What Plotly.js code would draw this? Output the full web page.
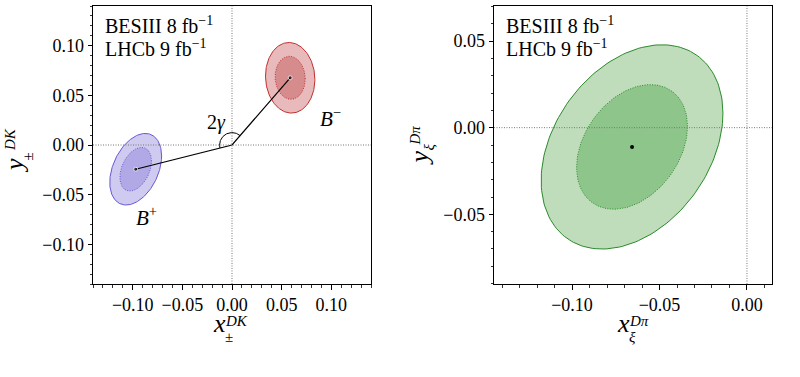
<!DOCTYPE html>
<html>
<head>
<meta charset="utf-8">
<script src="https://cdn.plot.ly/plotly-3.0.1.min.js"></script>
<style>
  html, body { margin: 0; padding: 0; background: #fff; }
  #chart { width: 800px; height: 377px; }
</style>
</head>
<body>
<div id="chart"></div>
<script>
// B -> DK: central values, uncertainties and correlations of (x±, y±)
const dkLabels = ['B+', 'B-'];
const dkX = [-0.0970, 0.0586];
const dkY = [-0.0244, 0.0677];
const dkSigX = [0.0105, 0.0100];
const dkSigY = [0.0145, 0.0143];
const dkRho = [0.37, -0.05];

// B -> Dπ: central value, uncertainties and correlation of (xξ, yξ)
const dpiX = [-0.0657];
const dpiY = [-0.0111];
const dpiSigX = [0.0209];
const dpiSigY = [0.0237];
const dpiRho = [0.33];

// 2D contour levels: 68.3% and 95.4% CL (sqrt of Δχ² = 2.30, 6.18)
const clScale = [Math.sqrt(2.30), Math.sqrt(6.18)];

// Axis ticks
const dkTicks = [-0.10, -0.05, 0.00, 0.05, 0.10];
const dpiXTicks = [-0.10, -0.05, 0.00];
const dpiYTicks = [-0.05, 0.00, 0.05];

const FONT = 'Liberation Serif';
const W = 800, H = 377;
const px = v => v / W;
const py = v => 1 - v / H;

// Contour of a correlated 2D Gaussian at a given scale
function contour(cx, cy, sx, sy, rho, k) {
  const xs = [], ys = [];
  const n = 181;
  const c = Math.sqrt(1 - rho * rho);
  for (let i = 0; i < n; i++) {
    const t = 2 * Math.PI * i / (n - 1);
    xs.push(cx + k * sx * Math.cos(t));
    ys.push(cy + k * sy * (rho * Math.cos(t) + c * Math.sin(t)));
  }
  return { xs, ys };
}

const styles = {
  'B+': { outerFill: '#cfcbf0', innerFill: '#b1a8e6', edge: '#6656d6' },
  'B-': { outerFill: '#e8babb', innerFill: '#d68b8d', edge: '#c0302e' },
  'Dpi': { outerFill: '#bfdcbb', innerFill: '#8ec58a', edge: '#2b8a2b' }
};

const traces = [];
function addEllipses(cx, cy, sx, sy, rho, st, xa, ya) {
  const outer = contour(cx, cy, sx, sy, rho, clScale[1]);
  const inner = contour(cx, cy, sx, sy, rho, clScale[0]);
  traces.push({
    type: 'scatter', mode: 'lines', x: outer.xs, y: outer.ys,
    xaxis: xa, yaxis: ya, fill: 'toself', fillcolor: st.outerFill,
    line: { color: st.edge, width: 1 }, hoverinfo: 'skip', showlegend: false
  });
  traces.push({
    type: 'scatter', mode: 'lines', x: inner.xs, y: inner.ys,
    xaxis: xa, yaxis: ya, fill: 'toself', fillcolor: st.innerFill,
    line: { color: st.edge, width: 1, dash: '1px,1.5px' }, hoverinfo: 'skip', showlegend: false
  });
}

for (let i = 0; i < dkLabels.length; i++) {
  addEllipses(dkX[i], dkY[i], dkSigX[i], dkSigY[i], dkRho[i], styles[dkLabels[i]], 'x', 'y');
}
addEllipses(dpiX[0], dpiY[0], dpiSigX[0], dpiSigY[0], dpiRho[0], styles['Dpi'], 'x2', 'y2');

// Lines from the origin to the two central values
traces.push({
  type: 'scatter', mode: 'lines+markers',
  x: [dkX[0], 0, dkX[1]], y: [dkY[0], 0, dkY[1]],
  xaxis: 'x', yaxis: 'y',
  line: { color: '#000', width: 1.2 },
  marker: { color: '#000', size: [4, 0, 4] },
  hoverinfo: 'skip', showlegend: false
});

// Angle arc between the two vectors (2γ)
(function () {
  const r = 0.0125;
  const a0 = Math.atan2(dkY[1], dkX[1]);
  let a1 = Math.atan2(dkY[0], dkX[0]);
  if (a1 < a0) a1 += 2 * Math.PI;
  const xs = [], ys = [];
  for (let i = 0; i <= 60; i++) {
    const a = a0 + (a1 - a0) * i / 60;
    xs.push(r * Math.cos(a));
    ys.push(r * Math.sin(a));
  }
  traces.push({
    type: 'scatter', mode: 'lines', x: xs, y: ys, xaxis: 'x', yaxis: 'y',
    line: { color: '#000', width: 1 }, hoverinfo: 'skip', showlegend: false
  });
})();

// Central value of the Dπ measurement
traces.push({
  type: 'scatter', mode: 'markers', x: dpiX, y: dpiY, xaxis: 'x2', yaxis: 'y2',
  marker: { color: '#000', size: 4 }, hoverinfo: 'skip', showlegend: false
});

const tickFont = { family: FONT, size: 18, color: '#000' };
function axis(domain, range, tickvals, extra) {
  return Object.assign({
    domain: domain, range: range, tickvals: tickvals,
    ticktext: tickvals.map(v => (v < 0 ? '\u2212' : '') + Math.abs(v).toFixed(2)),
    ticks: 'outside', ticklen: 4.5, tickwidth: 1, tickcolor: '#000',
    showline: true, mirror: true, linecolor: '#000', linewidth: 1,
    showgrid: false, zeroline: false, tickfont: tickFont,
    minor: { dtick: 0.01, tick0: 0, ticks: 'outside', ticklen: 2.5, tickwidth: 0.8, tickcolor: '#000', showgrid: false },
    fixedrange: true
  }, extra || {});
}

const shapes = [];
function zeroLines(xr, yr) {
  const ln = { color: '#777', width: 1, dash: '1px,1.5px' };
  shapes.push({ type: 'line', xref: xr, yref: yr + ' domain', x0: 0, x1: 0, y0: 0, y1: 1, line: ln, layer: 'above' });
  shapes.push({ type: 'line', xref: xr + ' domain', yref: yr, x0: 0, x1: 1, y0: 0, y1: 0, line: ln, layer: 'above' });
}
zeroLines('x', 'y');
zeroLines('x2', 'y2');

const f = size => ({ family: FONT, size: size, color: '#000' });
const txt = (text, x, y, extra) => Object.assign({
  text: text, x: x, y: y, xref: 'paper', yref: 'paper', showarrow: false,
  font: f(20), xanchor: 'left', yanchor: 'middle'
}, extra || {});
const dtxt = (text, x, y, size) => ({
  text: text, x: x, y: y, xref: 'x', yref: 'y', showarrow: false,
  font: f(size), xanchor: 'center', yanchor: 'middle'
});

const annotations = [
  // Dataset labels
  txt('BESIII 8 fb<sup>\u22121</sup>', px(103), py(25)),
  txt('LHCb 9 fb<sup>\u22121</sup>', px(103), py(48)),
  txt('BESIII 8 fb<sup>\u22121</sup>', px(504), py(25)),
  txt('LHCb 9 fb<sup>\u22121</sup>', px(504), py(48)),
  // Labels inside the DK panel
  dtxt('2<i>\u03b3</i>', -0.0160, 0.023, 20),
  dtxt('<i>B</i><sup>\u2212</sup>', 0.0990, 0.028, 21),
  dtxt('<i>B</i><sup>+</sup>', -0.0860, -0.072, 21),
  // x-axis titles
  txt('<i>x</i>', px(219), py(323.5), { xanchor: 'center', font: f(26) }),
  txt('<i>DK</i>', px(223), py(321), { font: f(15) }),
  txt('\u00b1', px(228.5), py(337), { xanchor: 'center', font: f(15) }),
  txt('<i>x</i>', px(623.5), py(323.5), { xanchor: 'center', font: f(26) }),
  txt('<i>D\u03c0</i>', px(627), py(321), { font: f(15) }),
  txt('<i>\u03be</i>', px(632), py(337), { xanchor: 'center', font: f(15) }),
  // y-axis titles (rotated)
  txt('<i>y</i>', px(14), py(166), { xanchor: 'center', textangle: -90, font: f(26) }),
  txt('<i>DK</i>', px(10), py(140), { xanchor: 'center', textangle: -90, font: f(15) }),
  txt('\u00b1', px(27), py(156.5), { xanchor: 'center', textangle: -90, font: f(15) }),
  txt('<i>y</i>', px(419), py(158.5), { xanchor: 'center', textangle: -90, font: f(26) }),
  txt('<i>D\u03c0</i>', px(414), py(135.5), { xanchor: 'center', textangle: -90, font: f(15) }),
  txt('<i>\u03be</i>', px(429), py(147.5), { xanchor: 'center', textangle: -90, font: f(15) })
];

const layout = {
  width: W, height: H,
  margin: { l: 0, r: 0, t: 0, b: 0 },
  paper_bgcolor: '#fff', plot_bgcolor: '#fff',
  font: { family: FONT, size: 18, color: '#000' },
  showlegend: false,
  xaxis: axis([px(93), px(371)], [-0.14, 0.14], dkTicks, { anchor: 'y' }),
  yaxis: axis([py(284), py(6)], [-0.14, 0.14], dkTicks, { anchor: 'x' }),
  xaxis2: axis([px(494), px(772)], [-0.1446, 0.0143], dpiXTicks, { anchor: 'y2' }),
  yaxis2: axis([py(284), py(6)], [-0.0902, 0.0702], dpiYTicks, { anchor: 'x2' }),
  shapes: shapes,
  annotations: annotations
};

Plotly.newPlot('chart', traces, layout, { staticPlot: true, displayModeBar: false });
</script>
</body>
</html>
